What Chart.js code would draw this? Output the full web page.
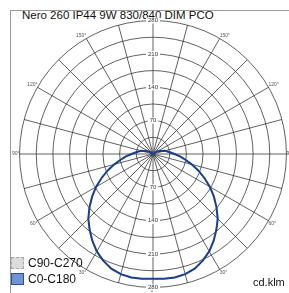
<!DOCTYPE html>
<html>
<head>
<meta charset="utf-8">
<script src="https://cdn.jsdelivr.net/npm/chart.js@4/dist/chart.umd.min.js"></script>
<style>
  html, body { margin: 0; padding: 0; background: #fff; overflow: hidden; }
  body { width: 289px; height: 293px; position: relative; font-family: "Liberation Sans", Arial, sans-serif; }
  #frame { position: absolute; left: 10px; top: 10px; width: 400px; height: 400px; border-left: 1px solid #9a9a9a; border-top: 1px solid #9a9a9a; }
  #title { position: absolute; left: 22px; top: 9px; font-size: 11.5px; color: #111; white-space: nowrap; }
  #wrap { position: absolute; left: 0; top: 0; width: 306px; height: 308px; }
  #legend { position: absolute; left: 11px; top: 255px; font-size: 12px; color: #111; }
  .item { display: flex; align-items: center; height: 16px; }
  .box { width: 13px; height: 12px; margin-right: 4px; box-sizing: border-box; }
  #unit { position: absolute; left: 253px; top: 276px; font-size: 11px; color: #111; }
</style>
</head>
<body>
<div id="frame"></div>
<div id="title">Nero 260 IP44 9W 830/840 DIM PCO</div>
<div id="wrap"><canvas id="polar"></canvas></div>
<div id="legend"></div>
<div id="unit">cd.klm</div>
<script>
// gamma angles (deg) and intensities in cd/klm
const gammas = [0, 5, 10, 15, 20, 25, 30, 35, 40, 45, 50, 55, 60, 65, 70, 75, 80, 85, 90,
  95, 100, 105, 110, 115, 120, 125, 130, 135, 140, 145, 150, 155, 160, 165, 170, 175, 180];
const c0c180 = [262, 263, 263, 261, 256, 247, 236, 222, 207, 192, 174, 156, 138, 119, 101, 84, 69, 57, 45,
  37, 31, 26, 19, 16, 11, 6, 3, 1, 0, 0, 0, 0, 0, 0, 0, 0, 0];
const c90c270 = [262, 263, 263, 261, 256, 247, 236, 222, 207, 192, 174, 156, 138, 119, 101, 84, 69, 57, 45,
  37, 31, 26, 19, 16, 11, 6, 3, 1, 0, 0, 0, 0, 0, 0, 0, 0, 0];
const rTicks = [70, 140, 210, 280];
const angleLabels = [150, 120, 90, 60, 30, 0];
const seriesNames = ['C90-C270', 'C0-C180'];

// radar goes clockwise from the top: top = 180deg, right side down to 0 at bottom, then back up the left
function around(values) {
  const out = [];
  for (let i = values.length - 1; i >= 0; i--) out.push(values[i]);
  for (let i = 1; i < values.length - 1; i++) out.push(values[i]);
  return out;
}
const spokes = around(gammas);

// the same tick labels again on the lower half of the vertical axis
const bottomTicks = {
  id: 'bottomTicks',
  afterDraw(chart) {
    const r = chart.scales.r;
    const ctx = chart.ctx;
    ctx.save();
    ctx.font = '6px "Liberation Sans", Arial, sans-serif';
    ctx.textAlign = 'center';
    ctx.textBaseline = 'middle';
    rTicks.forEach(v => {
      const y = r.yCenter + r.getDistanceFromCenterForValue(v);
      const w = ctx.measureText(String(v)).width;
      ctx.fillStyle = '#fff';
      ctx.fillRect(r.xCenter - w / 2 - 2, y - 3, w + 4, 6);
      ctx.fillStyle = '#333';
      ctx.fillText(String(v), r.xCenter, y);
    });
    ctx.restore();
  }
};

const chart = new Chart(document.getElementById('polar'), {
  type: 'radar',
  data: {
    labels: spokes.map(g => g + '°'),
    datasets: [
      { label: seriesNames[0], data: around(c90c270), borderColor: '#b0b0b0', borderDash: [3, 2], borderWidth: 1.5, fill: false, order: 2 },
      { label: seriesNames[1], data: around(c0c180), borderColor: '#1b3f8f', borderWidth: 2, fill: false, order: 1 }
    ]
  },
  options: {
    responsive: true,
    maintainAspectRatio: false,
    animation: false,
    layout: { padding: 12 },
    elements: { point: { radius: 0 }, line: { tension: 0 } },
    plugins: { legend: { display: false }, tooltip: { enabled: false } },
    scales: {
      r: {
        min: 0,
        max: 280,
        startAngle: 0,
        ticks: {
          stepSize: 35,
          color: '#333',
          font: { size: 6, family: '"Liberation Sans", Arial, sans-serif' },
          callback: v => rTicks.includes(v) ? String(v) : '',
          showLabelBackdrop: c => rTicks.includes(c.tick.value),
          backdropColor: '#fff',
          backdropPadding: { left: 2, right: 2, top: 0, bottom: 0 }
        },
        grid: { circular: true, color: '#3a3a3a', lineWidth: 0.8 },
        angleLines: {
          color: '#3a3a3a',
          lineWidth: c => spokes[c.index] % 15 === 0 ? 0.8 : 0
        },
        pointLabels: {
          color: '#555',
          padding: -3,
          font: { size: 5, family: '"Liberation Sans", Arial, sans-serif' },
          callback: (label, i) => angleLabels.includes(spokes[i]) ? label : ''
        }
      }
    }
  },
  plugins: [bottomTicks]
});

const legend = document.getElementById('legend');
const boxes = [
  'background:#dcdcdc;border:1px dashed #a8a8a8;',
  'background:#6f93d6;border:1px solid #2e4f96;'
];
seriesNames.forEach((name, i) => {
  const row = document.createElement('div');
  row.className = 'item';
  row.innerHTML = `<span class="box" style="${boxes[i]}"></span>${name}`;
  legend.appendChild(row);
});
</script>
</body>
</html>
